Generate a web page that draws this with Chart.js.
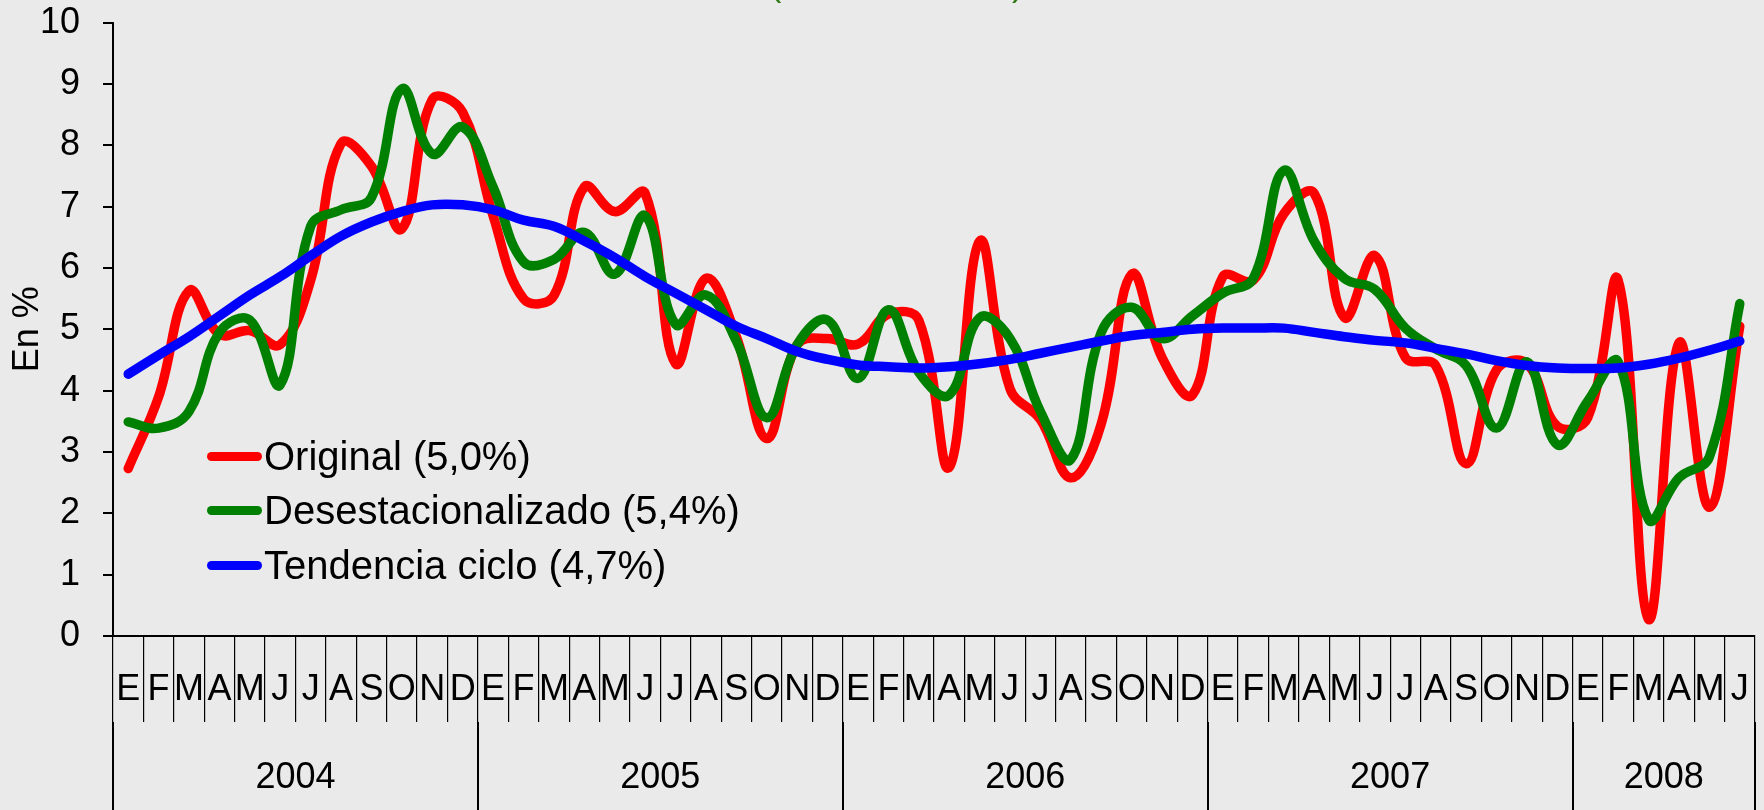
<!DOCTYPE html>
<html>
<head>
<meta charset="utf-8">
<script src="https://cdn.jsdelivr.net/npm/chart.js@4.4.1/dist/chart.umd.min.js"></script>
<style>
  html, body { margin: 0; padding: 0; background: #eaeaea; overflow: hidden; }
  #wrap { position: relative; width: 1764px; height: 810px; }
  #title { position: absolute; left: 770px; top: -33px; font: 34px 'Liberation Sans', Arial, sans-serif; line-height: 34px; color: #2f7a16; white-space: nowrap; }
  #legend { position: absolute; left: 207px; top: 429px; font: 40px 'Liberation Sans', Arial, sans-serif; color: #000; }
  .row { display: flex; align-items: center; height: 54.5px; white-space: nowrap; }
  .sw { width: 55px; height: 9px; border-radius: 4.5px; margin-right: 2px; }
</style>
</head>
<body>
<div id="wrap">
  <canvas id="chart" width="1764" height="810"></canvas>
  <div id="title">(Tasa interanual)</div>
  <div id="legend"></div>
</div>
<script>
// months are in spanish initials, 2004-01 .. 2008-06
const monthLetters = ['E','F','M','A','M','J','J','A','S','O','N','D'];
const years = ['2004','2005','2006','2007','2008'];
const monthsPerYear = [12, 12, 12, 12, 6];

const original = [2.73, 3.9, 5.63, 4.92, 4.98, 4.75, 5.8, 8.03, 7.66, 6.64, 8.75, 8.54,
  6.85, 5.5, 5.55, 7.32, 6.92, 7.22, 4.44, 5.83, 4.88, 3.22, 4.75, 4.85,
  4.76, 5.25, 5.15, 2.75, 6.44, 4.03, 3.53, 2.58, 3.46, 5.9, 4.54, 3.93,
  5.86, 5.8, 6.88, 7.22, 5.19, 6.2, 4.54, 4.41, 2.81, 4.34, 4.44, 3.42,
  3.56, 5.8, 0.27, 4.78, 2.1, 5.05];
const desest = [3.49, 3.39, 3.66, 4.95, 5.15, 4.1, 6.68, 6.95, 7.15, 8.92, 7.86, 8.3,
  7.32, 6.1, 6.14, 6.58, 5.9, 6.85, 5.08, 5.56, 4.81, 3.56, 4.75, 5.15,
  4.2, 5.32, 4.3, 3.93, 5.19, 4.85, 3.66, 2.88, 4.95, 5.36, 4.85, 5.22,
  5.59, 5.83, 7.59, 6.44, 5.83, 5.65, 5.02, 4.68, 4.41, 3.39, 4.47, 3.12,
  3.83, 4.47, 1.9, 2.58, 2.92, 5.42];
const tendencia = [4.27, 4.58, 4.88, 5.22, 5.56, 5.86, 6.2, 6.52, 6.75, 6.92, 7.03, 7.03,
  6.95, 6.78, 6.68, 6.44, 6.17, 5.86, 5.59, 5.32, 5.05, 4.85, 4.64, 4.51,
  4.42, 4.39, 4.37, 4.39, 4.44, 4.51, 4.61, 4.71, 4.81, 4.9, 4.95, 5.0,
  5.02, 5.02, 5.02, 4.95, 4.88, 4.82, 4.78, 4.69, 4.6, 4.49, 4.41, 4.37,
  4.36, 4.37, 4.43, 4.53, 4.66, 4.81];

const seriesNames = ['Original (5,0%)', 'Desestacionalizado (5,4%)', 'Tendencia ciclo (4,7%)'];
const seriesColors = ['#ff0000', '#008000', '#0000ff'];
const yTicks = [0, 1, 2, 3, 4, 5, 6, 7, 8, 9, 10];

// month labels and year positions on the second axis
const labels = [];
monthsPerYear.forEach(n => labels.push(...monthLetters.slice(0, n)));
const yearBounds = [0];
monthsPerYear.forEach(n => yearBounds.push(yearBounds[yearBounds.length - 1] + n));
const yearCenters = years.map((y, i) => (yearBounds[i] + yearBounds[i + 1]) / 2);
const yearTickValues = [...yearBounds, ...yearCenters].sort((a, b) => a - b);

const FONT = "'Liberation Sans', Arial, sans-serif";
Chart.defaults.font.family = FONT;
Chart.defaults.color = '#000';

// html legend
const $legend = document.getElementById('legend');
seriesNames.forEach((name, i) => {
  const row = document.createElement('div');
  row.className = 'row';
  row.innerHTML = `<span class="sw" style="background:${seriesColors[i]}"></span><span>${name}</span>`;
  $legend.appendChild(row);
});

const values = [original, desest, tendencia];

new Chart(document.getElementById('chart').getContext('2d'), {
  type: 'line',
  data: {
    labels: labels,
    datasets: values.map((v, i) => ({
      label: seriesNames[i],
      data: v,
      borderColor: seriesColors[i],
      backgroundColor: seriesColors[i],
      xAxisID: 'x',
      yAxisID: 'y',
      order: 3 - i
    }))
  },
  options: {
    responsive: false,
    animation: false,
    layout: { padding: { top: 0, right: 9, left: 0, bottom: 0 } },
    plugins: { legend: { display: false }, tooltip: { enabled: false } },
    elements: {
      point: { radius: 0 },
      line: { tension: 0.4, borderWidth: 9.5, borderCapStyle: 'round', borderJoinStyle: 'round', fill: false }
    },
    scales: {
      x: {
        type: 'category',
        position: 'bottom',
        weight: 0,
        offset: true,
        grid: { display: true, offset: true, drawOnChartArea: false, drawTicks: true, tickLength: 86, color: '#000', lineWidth: 1.2 },
        border: { display: true, color: '#000', width: 2 },
        ticks: { autoSkip: false, maxRotation: 0, minRotation: 0, padding: -54, color: '#000', font: { size: 36 } },
        afterFit: s => { s.height = 86; }
      },
      x2: {
        type: 'linear',
        position: 'bottom',
        weight: 1,
        min: 0,
        max: yearBounds[yearBounds.length - 1],
        afterBuildTicks: s => { s.ticks = yearTickValues.map(v => ({ value: v })); },
        grid: {
          display: true, drawOnChartArea: false, drawTicks: true, tickLength: 88, lineWidth: 2,
          color: c => (c.tick && yearBounds.includes(c.tick.value)) ? '#000' : 'rgba(0,0,0,0)'
        },
        border: { display: false },
        ticks: {
          autoSkip: false, maxRotation: 0, minRotation: 0, padding: -54, color: '#000', font: { size: 36 },
          callback: v => { const k = yearCenters.indexOf(v); return k >= 0 ? years[k] : ''; }
        },
        afterFit: s => { s.height = 88; }
      },
      y: {
        min: 0,
        max: 10,
        afterBuildTicks: s => { s.ticks = yTicks.map(v => ({ value: v })); },
        grid: { display: true, drawOnChartArea: false, drawTicks: true, tickLength: 10, color: '#000', lineWidth: 2 },
        border: { display: true, color: '#000', width: 2 },
        ticks: { padding: 23, color: '#000', font: { size: 36 } },
        title: { display: true, text: 'En %', color: '#000', font: { size: 36 }, padding: { top: 6, bottom: 0 } },
        afterFit: s => { s.width = 113; s.paddingTop = 22.7; s.paddingBottom = 0; }
      }
    }
  }
});
</script>
</body>
</html>
